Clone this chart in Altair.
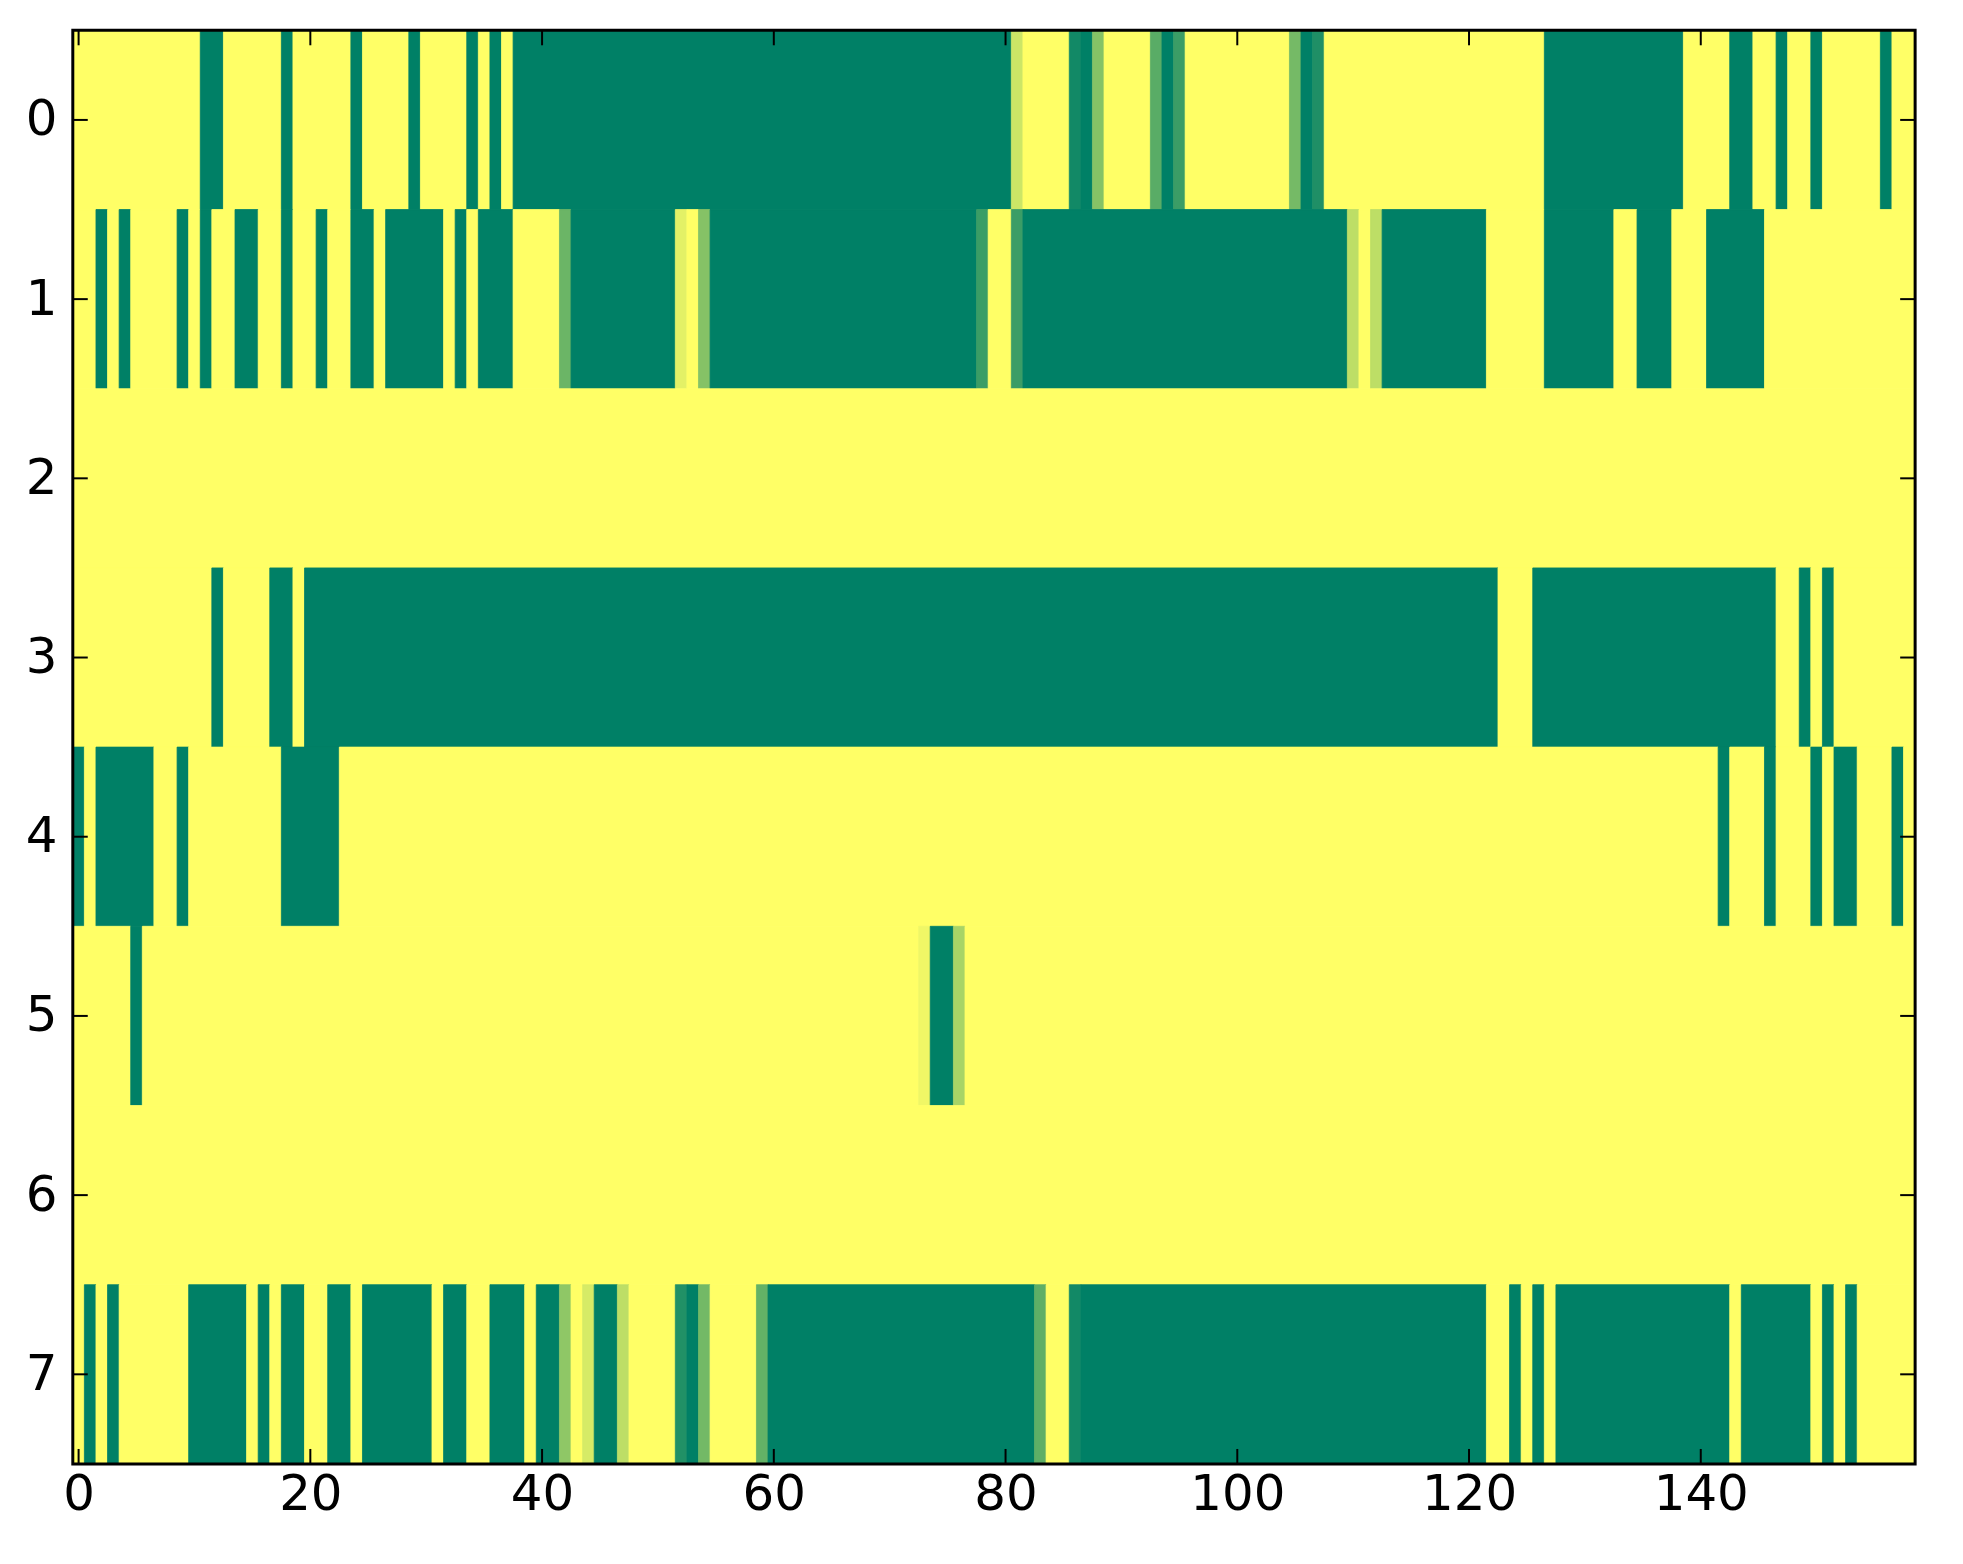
import altair as alt
import pandas as pd

# Column range and tick labels
n_cols = 159
x_ticks = [0, 20, 40, 60, 80, 100, 120, 140]
y_ticks = [0, 1, 2, 3, 4, 5, 6, 7]

# Each row as runs of (first column, last column, value)
row0 = [(0, 10, 1.0), (11, 12, 0.0), (13, 17, 1.0), (18, 18, 0.0), (19, 23, 1.0), (24, 24, 0.0),
        (25, 28, 1.0), (29, 29, 0.0), (30, 33, 1.0), (34, 34, 0.0), (35, 35, 1.0), (36, 36, 0.0),
        (37, 37, 1.0), (38, 80, 0.0), (81, 81, 0.8), (82, 85, 1.0), (86, 86, 0.07), (87, 87, 0.0),
        (88, 88, 0.52), (89, 92, 1.0), (93, 93, 0.35), (94, 94, 0.0), (95, 95, 0.23), (96, 104, 1.0),
        (105, 105, 0.46), (106, 106, 0.0), (107, 107, 0.12), (108, 126, 1.0), (127, 138, 0.0),
        (139, 142, 1.0), (143, 144, 0.0), (145, 146, 1.0), (147, 147, 0.0), (148, 149, 1.0),
        (150, 150, 0.0), (151, 155, 1.0), (156, 156, 0.0), (157, 158, 1.0)]
row1 = [(0, 1, 1.0), (2, 2, 0.0), (3, 3, 1.0), (4, 4, 0.0), (5, 8, 1.0), (9, 9, 0.0), (10, 10, 1.0),
        (11, 11, 0.0), (12, 13, 1.0), (14, 15, 0.0), (16, 17, 1.0), (18, 18, 0.0), (19, 20, 1.0),
        (21, 21, 0.0), (22, 23, 1.0), (24, 25, 0.0), (26, 26, 1.0), (27, 31, 0.0), (32, 32, 1.0),
        (33, 33, 0.0), (34, 34, 1.0), (35, 37, 0.0), (38, 41, 1.0), (42, 42, 0.42), (43, 51, 0.0),
        (52, 52, 0.89), (53, 53, 1.0), (54, 54, 0.52), (55, 77, 0.0), (78, 78, 0.23), (79, 80, 1.0),
        (81, 81, 0.23), (82, 109, 0.0), (110, 110, 0.74), (111, 111, 1.0), (112, 112, 0.74),
        (113, 121, 0.0), (122, 126, 1.0), (127, 132, 0.0), (133, 134, 1.0), (135, 137, 0.0),
        (138, 140, 1.0), (141, 145, 0.0), (146, 158, 1.0)]
row2 = [(0, 158, 1.0)]
row3 = [(0, 11, 1.0), (12, 12, 0.0), (13, 16, 1.0), (17, 18, 0.0), (19, 19, 1.0), (20, 122, 0.0),
        (123, 125, 1.0), (126, 146, 0.0), (147, 148, 1.0), (149, 149, 0.0), (150, 150, 1.0),
        (151, 151, 0.0), (152, 158, 1.0)]
row4 = [(0, 0, 0.0), (1, 1, 1.0), (2, 6, 0.0), (7, 8, 1.0), (9, 9, 0.0), (10, 17, 1.0), (18, 22, 0.0),
        (23, 141, 1.0), (142, 142, 0.0), (143, 145, 1.0), (146, 146, 0.0), (147, 149, 1.0),
        (150, 150, 0.0), (151, 151, 1.0), (152, 153, 0.0), (154, 156, 1.0), (157, 157, 0.0),
        (158, 158, 1.0)]
row5 = [(0, 4, 1.0), (5, 5, 0.0), (6, 72, 1.0), (73, 73, 0.94), (74, 75, 0.0), (76, 76, 0.66),
        (77, 158, 1.0)]
row6 = [(0, 158, 1.0)]
row7 = [(0, 0, 1.0), (1, 1, 0.0), (2, 2, 1.0), (3, 3, 0.0), (4, 9, 1.0), (10, 14, 0.0), (15, 15, 1.0),
        (16, 16, 0.0), (17, 17, 1.0), (18, 19, 0.0), (20, 21, 1.0), (22, 23, 0.0), (24, 24, 1.0),
        (25, 30, 0.0), (31, 31, 1.0), (32, 33, 0.0), (34, 35, 1.0), (36, 38, 0.0), (39, 39, 1.0),
        (40, 41, 0.0), (42, 42, 0.56), (43, 43, 1.0), (44, 44, 0.84), (45, 46, 0.0), (47, 47, 0.74),
        (48, 51, 1.0), (52, 52, 0.13), (53, 53, 0.0), (54, 54, 0.45), (55, 58, 1.0), (59, 59, 0.39),
        (60, 82, 0.0), (83, 83, 0.37), (84, 85, 1.0), (86, 86, 0.07), (87, 121, 0.0),
        (122, 123, 1.0), (124, 124, 0.0), (125, 125, 1.0), (126, 126, 0.0), (127, 127, 1.0),
        (128, 142, 0.0), (143, 143, 1.0), (144, 149, 0.0), (150, 150, 1.0), (151, 151, 0.0),
        (152, 152, 1.0), (153, 153, 0.0), (154, 158, 1.0)]

rows = [row0, row1, row2, row3, row4, row5, row6, row7]

recs = []
for r, segs in enumerate(rows):
    for s, e, v in segs:
        recs.append({"row": r, "x0": s - 0.5, "x1": e + 0.5, "y0": r - 0.5, "y1": r + 0.5, "value": v})
df = pd.DataFrame(recs)

W, H = 1848, 1438
FONT = "DejaVu Sans"
FS = 50
TICK = 15

xscale = alt.Scale(domain=[-0.5, n_cols - 0.5], nice=False, zero=False)
yscale = alt.Scale(domain=[-0.5, 7.5], nice=False, zero=False, reverse=True)
cscale = alt.Scale(domain=[0, 1], range=["#008066", "#ffff66"], interpolate="rgb")

xaxis = alt.Axis(values=x_ticks, title=None, ticks=False, domain=False, grid=False,
                 labelFont=FONT, labelFontSize=FS, labelColor="black", labelPadding=6,
                 labelFlush=False, labelOverlap=False, format="d")
yaxis = alt.Axis(values=y_ticks, title=None, ticks=False, domain=False, grid=False,
                 labelFont=FONT, labelFontSize=FS, labelColor="black", labelPadding=16,
                 labelFlush=False, labelOverlap=False, format="d")

heat = alt.Chart(df).mark_rect(strokeWidth=0.8).encode(
    x=alt.X("x0:Q", scale=xscale, axis=xaxis),
    x2="x1:Q",
    y=alt.Y("y0:Q", scale=yscale, axis=yaxis),
    y2="y1:Q",
    color=alt.Color("value:Q", scale=cscale, legend=None),
    stroke=alt.Stroke("value:Q", scale=cscale, legend=None),
)

xt = pd.DataFrame({"t": x_ticks})
yt = pd.DataFrame({"t": y_ticks})

tick_top = alt.Chart(xt).mark_rule(color="black", strokeWidth=2).encode(
    x=alt.X("t:Q", scale=xscale, axis=xaxis), y=alt.value(0), y2=alt.value(TICK))
tick_bottom = alt.Chart(xt).mark_rule(color="black", strokeWidth=2).encode(
    x=alt.X("t:Q", scale=xscale, axis=xaxis), y=alt.value(H), y2=alt.value(H - TICK))
tick_left = alt.Chart(yt).mark_rule(color="black", strokeWidth=2).encode(
    y=alt.Y("t:Q", scale=yscale, axis=yaxis), x=alt.value(0), x2=alt.value(TICK))
tick_right = alt.Chart(yt).mark_rule(color="black", strokeWidth=2).encode(
    y=alt.Y("t:Q", scale=yscale, axis=yaxis), x=alt.value(W), x2=alt.value(W - TICK))

frame = alt.Chart(pd.DataFrame({"f": [0]})).mark_rect(
    fillOpacity=0, stroke="black", strokeWidth=3).encode(
    x=alt.value(0), x2=alt.value(W), y=alt.value(0), y2=alt.value(H))

chart = alt.layer(heat, tick_top, tick_bottom, tick_left, tick_right, frame).properties(
    width=W, height=H,
    autosize=alt.AutoSizeParams(type="none"),
    padding={"left": 65, "top": 20, "right": 40, "bottom": 100},
).configure_view(strokeWidth=0)

chart.save("out.html", embed_options={"renderer": "svg", "actions": False})
